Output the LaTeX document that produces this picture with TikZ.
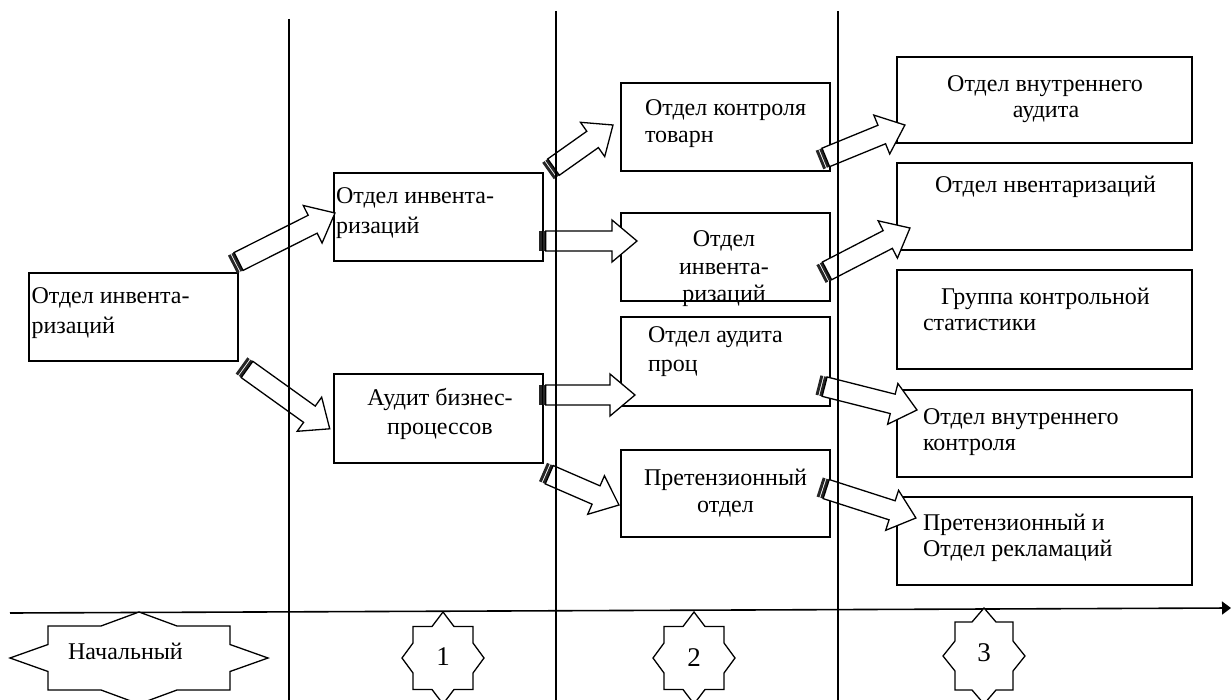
\documentclass[tikz,border=0pt]{standalone}
\usepackage{fontspec}
\setmainfont{Liberation Serif}
\usetikzlibrary{calc,arrows.meta}

\newcommand{\swd}{10}
\newcommand{\hwd}{21}
\newcommand{\hln}{25}

% striped block arrow from tail coordinate #1 to tip coordinate #2
\newcommand{\stripedarrow}[2]{%
  \pgfpointdiff{\pgfpointanchor{#1}{center}}{\pgfpointanchor{#2}{center}}%
  \pgfgetlastxy{\arrdx}{\arrdy}%
  \pgfmathsetmacro{\arrang}{atan2(\arrdy,\arrdx)}%
  \pgfmathsetmacro{\arrlen}{veclen(\arrdx,\arrdy)}%
  \begin{scope}[shift={(#1)}, rotate=\arrang, x=1pt, y=1pt]
    \fill[stripecol] (0,-\swd) rectangle (2.9,\swd);
    \fill[stripecol] (3.9,-\swd) rectangle (6.6,\swd);
    \draw[arrline] (6.8,-\swd) -- ({\arrlen-\hln},-\swd) -- ({\arrlen-\hln},-\hwd)
      -- (\arrlen,0) -- ({\arrlen-\hln},\hwd) -- ({\arrlen-\hln},\swd) -- (6.8,\swd) -- cycle;
  \end{scope}}

% eight-point star around coordinate #1
\newcommand{\starpoly}[7]{%
  \draw[starline, shift={(#1)}] (-#2,0) -- (-#3,-#7) -- (-#3,-#6) -- (-#4,-#6) -- (0,-#5)
    -- (#4,-#6) -- (#3,-#6) -- (#3,-#7) -- (#2,0) -- (#3,#7) -- (#3,#6) -- (#4,#6)
    -- (0,#5) -- (-#4,#6) -- (-#3,#6) -- (-#3,#7) -- cycle;}

% rectangle node from corners
\newcommand{\boxat}[5]{%
  \node[box, minimum width={#4-#2}, minimum height={#5-#3}] (#1) at ({(#2+#4)/2},{(#3+#5)/2}) {};}

\begin{document}
\begin{tikzpicture}[x=1pt, y=-1pt,
  box/.style={draw=black, line width=1.3pt, fill=white, inner sep=0pt, outer sep=0pt},
  arrline/.style={draw=black, line width=1.3pt, fill=white, line join=miter},
  stripecol/.style={fill=black!85},
  starline/.style={draw=black, line width=1.3pt, fill=white},
  divider/.style={draw=black, line width=1.5pt},
  axisline/.style={draw=black, line width=1.6pt, -{Triangle[length=9pt,width=13pt]}},
  tl/.style={inner sep=0pt, outer sep=0pt, font=\fontsize{24}{27}\selectfont},
  dl/.style={inner sep=0pt, outer sep=0pt, font=\fontsize{27}{30}\selectfont}]
\useasboundingbox (0,0) rectangle (1231,700);

% boxes
\boxat{A}{29}{273}{238}{361}
\boxat{B}{334}{173}{543}{261}
\boxat{C}{334}{374}{543}{463}
\boxat{D}{621}{83}{830}{171}
\boxat{E}{621}{213}{830}{301}
\boxat{F}{621}{317}{830}{406}
\boxat{G}{621}{450}{830}{537}
\boxat{H1}{897}{57}{1192}{143}
\boxat{H2}{897}{163}{1192}{250}
\boxat{H3}{897}{270}{1192}{369}
\boxat{H4}{897}{390}{1192}{477}
\boxat{H5}{897}{497}{1192}{585}

% arrow end points
\coordinate (t1) at (232.5,264.5); \coordinate (p1) at (335,213);
\coordinate (t2) at (241.5,365.5); \coordinate (p2) at (330,429);
\coordinate (t3) at (548,171);     \coordinate (p3) at (613,125);
\coordinate (t4) at (539,241);     \coordinate (p4) at (637,241);
\coordinate (t5) at (539,395);     \coordinate (p5) at (635,395);
\coordinate (t6) at (543,472);     \coordinate (p6) at (619,505);
\coordinate (t7) at (819.5,160);   \coordinate (p7) at (905,125);
\coordinate (t8) at (821,274);     \coordinate (p8) at (910,228);
\coordinate (t9) at (818,385);     \coordinate (p9) at (917,410);
\coordinate (t10) at (819.7,487);  \coordinate (p10) at (916,518);

\stripedarrow{t1}{p1}
\stripedarrow{t2}{p2}
\stripedarrow{t3}{p3}
\stripedarrow{t4}{p4}
\stripedarrow{t5}{p5}
\stripedarrow{t6}{p6}
\stripedarrow{t7}{p7}
\stripedarrow{t8}{p8}
\stripedarrow{t9}{p9}
\stripedarrow{t10}{p10}

% vertical dividers
\coordinate (v1t) at (289,19);  \coordinate (v1b) at (289,700);
\coordinate (v2t) at (556,11);  \coordinate (v2b) at (556,700);
\coordinate (v3t) at (838,11);  \coordinate (v3b) at (838,700);
\draw[divider] (v1t) -- (v1b);
\draw[divider] (v2t) -- (v2b);
\draw[divider] (v3t) -- (v3b);

% time axis
\coordinate (ax0) at (10,613); \coordinate (ax1) at (1231,608);
\draw[axisline] (ax0) -- (ax1);

% stars
\coordinate (c0) at (139,658);
\coordinate (c1) at (443,658);
\coordinate (c2) at (694,658);
\coordinate (c3) at (984,656);
\starpoly{c0}{129}{91}{38}{46}{32}{13.5}
\starpoly{c1}{41}{30}{11}{46}{31.5}{15}
\starpoly{c2}{41}{30}{11}{46}{31.5}{15}
\starpoly{c3}{41}{29}{12}{48}{34}{15}
\node[tl] (s0) at (125.5,651) {Начальный};
\node[dl] (s1) at (443,657) {1};
\node[dl] (s2) at (694,658) {2};
\node[dl] (s3) at (984,653) {3};

% texts
\node[tl, anchor=base west] (tA1) at (31.5,304) {Отдел инвента-};
\node[tl, anchor=base west] (tA2) at (31.5,334) {ризаций};
\node[tl, anchor=base west] (tB1) at (336,204) {Отдел инвента-};
\node[tl, anchor=base west] (tB2) at (336,234) {ризаций};
\node[tl, anchor=base] (tC1) at (440,405) {Аудит бизнес-};
\node[tl, anchor=base] (tC2) at (440,434) {процессов};
\node[tl, anchor=base west] (tD1) at (645,116) {Отдел контроля};
\node[tl, anchor=base west] (tD2) at (645,143) {товарн};
\node[tl, anchor=base] (tE1) at (724,247) {Отдел};
\node[tl, anchor=base] (tE2) at (724,275) {инвента-};
\node[tl, anchor=base] (tE3) at (724,302) {ризаций};
\node[tl, anchor=base west] (tF1) at (648,343) {Отдел аудита};
\node[tl, anchor=base west] (tF2) at (648,371) {проц};
\node[tl, anchor=base] (tG1) at (725.5,485) {Претензионный};
\node[tl, anchor=base] (tG2) at (725.5,512) {отдел};
\node[tl, anchor=base] (tH11) at (1045,92) {Отдел внутреннего};
\node[tl, anchor=base] (tH12) at (1046,117.5) {аудита};
\node[tl, anchor=base] (tH21) at (1045.5,193) {Отдел нвентаризаций};
\node[tl, anchor=base west] (tH31) at (941,305) {Группа контрольной};
\node[tl, anchor=base west] (tH32) at (923,331) {статистики};
\node[tl, anchor=base west] (tH41) at (923,424) {Отдел внутреннего};
\node[tl, anchor=base west] (tH42) at (923,450) {контроля};
\node[tl, anchor=base west] (tH51) at (923,530.5) {Претензионный и};
\node[tl, anchor=base west] (tH52) at (923,556.5) {Отдел рекламаций};
\end{tikzpicture}
\end{document}
